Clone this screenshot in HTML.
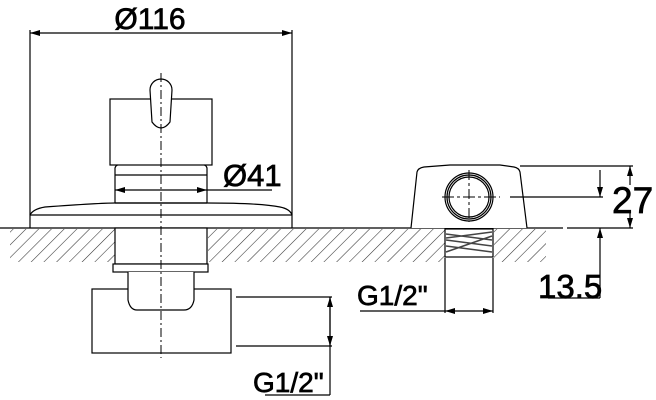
<!DOCTYPE html>
<html><head><style>body{margin:0;background:#fff}svg{display:block}text{font-family:"Liberation Sans",sans-serif;fill:#000;stroke:#000;stroke-width:0.7}</style></head>
<body>
<svg width="656" height="400" viewBox="0 0 656 400" xmlns="http://www.w3.org/2000/svg">
<defs>
<pattern id="h" width="9" height="9" patternUnits="userSpaceOnUse" patternTransform="rotate(45)">
<line x1="0" y1="0" x2="0" y2="9" stroke="#333" stroke-width="1.1"/>
</pattern>
<marker id="a" viewBox="0 0 10 6" refX="10" refY="3" markerWidth="10" markerHeight="6" orient="auto-start-reverse" markerUnits="userSpaceOnUse"><path d="M0,0 L10,3 L0,6z" fill="#000"/></marker>
</defs>
<rect x="10" y="229" width="105" height="33" fill="url(#h)"/>
<rect x="208" y="229" width="237" height="33" fill="url(#h)"/>
<rect x="494" y="229" width="52" height="33" fill="url(#h)"/>
<g stroke="#000" stroke-width="1.2" fill="none">
<line x1="0" y1="228" x2="563" y2="228"/><line x1="567" y1="228" x2="633" y2="228"/>
<line x1="30" y1="30" x2="30" y2="215"/><line x1="292" y1="30" x2="292" y2="215"/>
<line x1="30" y1="33" x2="292" y2="33" marker-start="url(#a)" marker-end="url(#a)"/>
<rect x="110" y="99" width="102" height="66" fill="#fff"/>
<path d="M150,90 A11,11 0 0 1 172,90 L170,122 Q161,134 152,122 Z" fill="#fff"/>
<path d="M115,175 L115,168 Q116,165 118,165 M207,175 L207,168 Q206,165 204,165"/>
<line x1="115" y1="175" x2="207" y2="175"/>
<line x1="115" y1="175" x2="115" y2="203"/><line x1="207" y1="175" x2="207" y2="203"/>
<line x1="115" y1="190" x2="207" y2="190" marker-start="url(#a)" marker-end="url(#a)"/>
<line x1="207" y1="190" x2="272" y2="190"/>
<path d="M30,228 L30,215 Q33,209 45,207 Q100,203 115,203 L207,203 Q260,203 280,207 Q290,209 292,215 L292,228"/>
<line x1="115" y1="203" x2="207" y2="203"/>
<line x1="30" y1="215" x2="292" y2="215"/>
<rect x="115" y="228" width="92" height="36" fill="#fff"/>
<rect x="113" y="264" width="95" height="8" fill="#fff"/>
<rect x="92" y="289" width="139" height="64" fill="#fff"/>
<path d="M128,272 L128,300 Q130,310 137,310 L184,310 Q192,310 194,300 L194,272" fill="#fff"/>
<line x1="161" y1="73" x2="161" y2="358" stroke-dasharray="9,3,2,3" stroke-width="1"/>
<line x1="236" y1="297" x2="332" y2="297"/><line x1="236" y1="346" x2="332" y2="346"/>
<line x1="330" y1="297" x2="330" y2="395"/>
<line x1="330" y1="322" x2="330" y2="297" marker-end="url(#a)"/>
<line x1="330" y1="322" x2="330" y2="346" marker-end="url(#a)"/>
<line x1="265" y1="395" x2="330" y2="395"/>
<path d="M411,228 L417,172 Q418,168 424,167 L450,165 L500,165 L514,167 Q519,168 520,172 L527,228" fill="#fff"/>
<circle cx="469" cy="197" r="24"/><circle cx="469" cy="197" r="22"/><circle cx="469" cy="197" r="20"/>
<line x1="469" y1="170" x2="469" y2="222" stroke-dasharray="10,3,3,3" stroke-width="1"/>
<line x1="442" y1="197" x2="500" y2="197" stroke-dasharray="12,3,3,3" stroke-width="1"/>
<line x1="510" y1="197" x2="603" y2="197"/>
<line x1="520" y1="166" x2="633" y2="166"/>
<rect x="445" y="229" width="48" height="28" fill="#fff"/>
<path d="M446,234 L492,240 M446,240 L492,246 M446,246 L492,252 M446,252 L492,236 M446,238 L492,232" stroke="#444" stroke-width="1.5"/>
<line x1="445" y1="258" x2="445" y2="313"/><line x1="493" y1="258" x2="493" y2="313"/>
<line x1="360" y1="311" x2="445" y2="311"/>
<line x1="445" y1="311" x2="493" y2="311" marker-start="url(#a)" marker-end="url(#a)"/>
<line x1="600" y1="170" x2="600" y2="197" marker-end="url(#a)"/>
<line x1="600" y1="298" x2="600" y2="228" marker-end="url(#a)"/>
<line x1="548" y1="298" x2="600" y2="298"/>
<line x1="630" y1="185" x2="630" y2="166" marker-end="url(#a)"/>
<line x1="630" y1="212" x2="630" y2="228" marker-end="url(#a)"/>
</g>
<text x="150" y="29" font-size="30" text-anchor="middle">Ø116</text>
<text x="223" y="186" font-size="31">Ø41</text>
<text x="253" y="392" font-size="28">G1/2"</text>
<text x="357" y="305" font-size="28">G1/2"</text>
<text x="538" y="298" font-size="33">13.5</text>
<text x="612" y="213" font-size="37">27</text>
</svg>
</body></html>
